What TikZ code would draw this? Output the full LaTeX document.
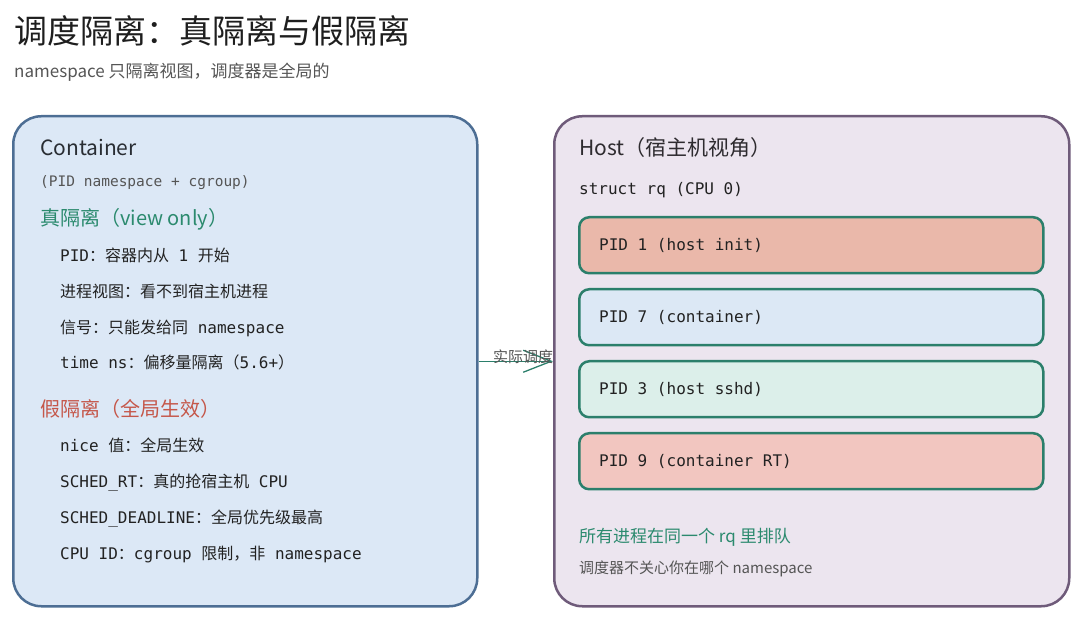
\documentclass[tikz,border=0pt]{standalone}
\usepackage{fontspec}
\setmainfont{Noto Sans CJK SC}
\setmonofont{DejaVu Sans Mono}
\newfontfamily\cjk{Noto Sans CJK SC}
\usetikzlibrary{arrows.meta}

\definecolor{titlecol}{HTML}{1E1E1E}
\definecolor{textdark}{HTML}{222222}
\definecolor{textgray}{HTML}{555555}
\definecolor{contfill}{HTML}{DCE8F6}
\definecolor{contline}{HTML}{4D6E94}
\definecolor{hostfill}{HTML}{ECE5EF}
\definecolor{hostline}{HTML}{6F5B7A}
\definecolor{tealline}{HTML}{2B7F6B}
\definecolor{greentxt}{HTML}{2B8A6E}
\definecolor{redtxt}{HTML}{C5574A}
\definecolor{pidsalmon}{HTML}{EAB8AA}
\definecolor{pidblue}{HTML}{DCE8F5}
\definecolor{pidmint}{HTML}{DCEFEA}
\definecolor{pidpink}{HTML}{F2C6C0}

\begin{document}
\begin{tikzpicture}[x=1pt, y=-1pt,
  panel/.style={line width=2.5pt, rounded corners=28pt, anchor=north west, inner sep=0pt},
  pidbox/.style={draw=tealline, line width=2.5pt, rounded corners=10pt, anchor=north west,
    minimum width=464pt, minimum height=56pt, inner sep=0pt},
  txt/.style={anchor=base west, inner sep=0pt},
  item/.style={txt, font=\fontsize{16}{19}\ttfamily, text=textdark},
  pidtext/.style={item, anchor=west, xshift=21pt},
  flow/.style={draw=tealline, line width=1.3pt, -{Straight Barb[length=28pt,width=22pt]}}
]
\useasboundingbox (0,0) rectangle (1080,617);

% Title
\node[txt, font=\fontsize{33}{36}\selectfont, text=titlecol] (title) at (14,44) {调度隔离：真隔离与假隔离};
\node[txt, font=\fontsize{17}{20}\selectfont, text=textgray] (subtitle) at (14,78) {namespace 只隔离视图，调度器是全局的};

% Container panel
\node[panel, draw=contline, fill=contfill, minimum width=464pt, minimum height=490pt] (container) at (12,115) {};
\node[txt, font=\fontsize{21}{24}\selectfont, text=textdark!85!contline] (cname) at (40,156) {Container};
\node[txt, font=\fontsize{14.5}{17}\ttfamily, text=textgray] (csub) at (40,187) {(PID namespace + cgroup)};

% True isolation
\node[txt, font=\fontsize{20}{23}\selectfont, text=greentxt] (truehead) at (40,226) {真隔离（view only）};
\node[item] (t1) at (60,262) {PID\cjk：容器内从\ttfamily\ 1 \cjk 开始};
\node[item] (t2) at (60,298) {\cjk 进程视图：看不到宿主机进程};
\node[item] (t3) at (60,334) {\cjk 信号：只能发给同\ttfamily\ namespace};
\node[item] (t4) at (60,369) {time ns\cjk：偏移量隔离（\ttfamily 5.6+\cjk）};

% Fake isolation
\node[txt, font=\fontsize{20}{23}\selectfont, text=redtxt] (fakehead) at (40,417) {假隔离（全局生效）};
\node[item] (f1) at (60,452) {nice \cjk 值：全局生效};
\node[item] (f2) at (60,488) {SCHED\_RT\cjk：真的抢宿主机\ttfamily\ CPU};
\node[item] (f3) at (60,524) {SCHED\_DEADLINE\cjk：全局优先级最高};
\node[item] (f4) at (60,560) {CPU ID\cjk：\ttfamily cgroup \cjk 限制，非\ttfamily\ namespace};

% Host panel
\node[panel, draw=hostline, fill=hostfill, minimum width=515pt, minimum height=490pt] (host) at (553,115) {};
\node[txt, font=\fontsize{21}{24}\selectfont, text=textdark!85!hostline] (hname) at (579,156) {Host（宿主机视角）};
\node[item] (rq) at (579,195) {struct rq (CPU 0)};

% Run queue
\node[pidbox, fill=pidsalmon] (pid1) at (578,216) {};
\node[pidbox, fill=pidblue] (pid7) at (578,288) {};
\node[pidbox, fill=pidmint] (pid3) at (578,360) {};
\node[pidbox, fill=pidpink] (pid9) at (578,432) {};
\node[pidtext] (pid1text) at (pid1.west) {PID 1 (host init)};
\node[pidtext] (pid7text) at (pid7.west) {PID 7 (container)};
\node[pidtext] (pid3text) at (pid3.west) {PID 3 (host sshd)};
\node[pidtext] (pid9text) at (pid9.west) {PID 9 (container RT)};

\node[txt, font=\fontsize{17}{20}\selectfont, text=greentxt] (note1) at (579,543) {所有进程在同一个 rq 里排队};
\node[txt, font=\fontsize{15}{18}\selectfont, text=textgray] (note2) at (579,573) {调度器不关心你在哪个 namespace};

% Arrow
\draw[flow] (container.east) -- node[pos=0.6, yshift=5pt, inner sep=0pt, font=\fontsize{15}{18}\selectfont, text=textgray] (sched) {实际调度} (host.west);

\end{tikzpicture}
\end{document}
